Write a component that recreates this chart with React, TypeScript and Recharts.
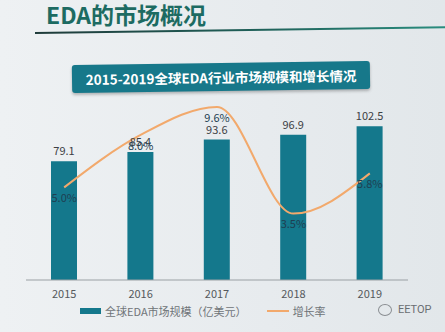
import { ComposedChart, Bar, Line, XAxis, YAxis, LabelList } from 'recharts'

const years = ['2015', '2016', '2017', '2018', '2019']
const marketSize = [79.1, 85.4, 93.6, 96.9, 102.5]
const growthRate = [5.0, 8.0, 9.6, 3.5, 5.8]

const data = years.map((year, i) => ({ year, size: marketSize[i], growth: growthRate[i] }))

const TEAL = '#14788c'
const ORANGE = '#f2a96c'
const FONT = '"Noto Sans CJK SC", "Noto Sans", sans-serif'

export default function App() {
  return (
    <div
      style={{
        position: 'absolute',
        left: 0,
        top: 0,
        width: 445,
        height: 332,
        overflow: 'hidden',
        background: 'linear-gradient(90deg, #eef1f3 0%, #e7ebee 60%, #e2e7ea 100%)',
        fontFamily: FONT,
      }}
    >
      {/* slide heading */}
      <div
        style={{
          position: 'absolute',
          left: 46,
          top: 1,
          fontSize: 23,
          lineHeight: '26px',
          fontWeight: 'bold',
          color: '#1d6b62',
        }}
      >
        EDA的市场概况
      </div>
      <div
        style={{
          position: 'absolute',
          left: 35,
          top: 32,
          width: 420,
          height: 2,
          background: 'linear-gradient(90deg, #1f3b3a 0%, #1f5e57 50%, #2a8f80 100%)',
          transform: 'rotate(-0.8deg)',
          transformOrigin: 'left center',
        }}
      />
      {/* banner */}
      <div
        style={{
          position: 'absolute',
          left: 72,
          top: 63,
          width: 298,
          height: 28,
          borderRadius: 3,
          background: '#17788a',
          boxShadow: '0 2px 3px rgba(0,0,0,0.25)',
          color: '#ffffff',
          fontSize: 13.5,
          fontWeight: 'bold',
          lineHeight: '28px',
          textAlign: 'center',
          transform: 'rotate(-0.8deg)',
        }}
      >
        2015-2019全球EDA行业市场规模和增长情况
      </div>

      <ComposedChart
        width={445}
        height={332}
        data={data}
        margin={{ top: 100, right: 37, bottom: 22, left: 26 }}
        style={{ position: 'absolute', left: 0, top: 0 }}
      >
        <XAxis
          dataKey="year"
          tickLine={false}
          axisLine={{ stroke: '#9aa0a4' }}
          tick={{ fill: '#55595c', fontSize: 11, fontFamily: FONT }}
          tickMargin={4}
        />
        <YAxis yAxisId="size" hide domain={[0, 120]} />
        <YAxis yAxisId="growth" hide orientation="right" domain={[-0.3, 10]} />
        <Bar yAxisId="size" dataKey="size" fill={TEAL} barSize={26} isAnimationActive={false}>
          <LabelList dataKey="size" position="top" offset={6} fill="#3c4044" fontSize={11} fontFamily={FONT} />
        </Bar>
        <Line
          yAxisId="growth"
          type="monotone"
          dataKey="growth"
          stroke={ORANGE}
          strokeWidth={2}
          dot={false}
          isAnimationActive={false}
        >
          <LabelList
            dataKey="growth"
            position="bottom"
            offset={7}
            fill="#1e3f52"
            fontSize={11}
            fontFamily={FONT}
            formatter={(v: any) => `${Number(v).toFixed(1)}%`}
          />
        </Line>
      </ComposedChart>

      {/* legend */}
      <div
        style={{
          position: 'absolute',
          left: 80,
          top: 303,
          display: 'flex',
          alignItems: 'center',
          fontSize: 11,
          color: '#6f7478',
        }}
      >
        <span style={{ display: 'inline-block', width: 21, height: 6, background: TEAL, marginRight: 4 }} />
        <span>全球EDA市场规模（亿美元）</span>
        <span style={{ display: 'inline-block', width: 22, height: 2, background: ORANGE, margin: '0 4px 0 20px' }} />
        <span>增长率</span>
      </div>

      {/* watermark */}
      <div
        style={{
          position: 'absolute',
          left: 378,
          top: 303,
          display: 'flex',
          alignItems: 'center',
          fontSize: 11,
          color: '#6a6e72',
          fontFamily: 'Roboto, sans-serif',
        }}
      >
        <span
          style={{
            display: 'inline-block',
            width: 12,
            height: 10,
            borderRadius: '50%',
            border: '1.5px solid #8a8e92',
            marginRight: 6,
          }}
        />
        EETOP
      </div>
    </div>
  )
}
